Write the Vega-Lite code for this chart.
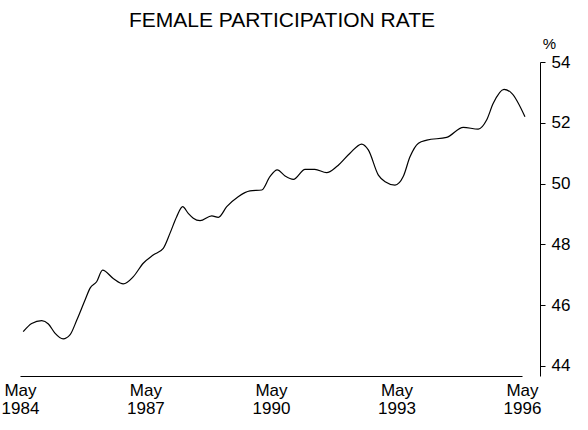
{
  "$schema": "https://vega.github.io/schema/vega-lite/v6.json",
  "width": 502,
  "height": 314,
  "autosize": {"type": "none"},
  "padding": {"left": 20, "top": 62, "right": 66, "bottom": 54},
  "background": "white",
  "config": {
    "font": "Liberation Sans",
    "view": {"stroke": null}
  },
  "title": {
    "text": "FEMALE PARTICIPATION RATE",
    "frame": "group",
    "anchor": "middle",
    "fontSize": 21,
    "fontWeight": "normal",
    "color": "black",
    "dx": 11,
    "offset": 5
  },
  "data": {
    "values": [
      {"date": "1984-05-29", "rate": 45.13},
      {"date": "1984-08-11", "rate": 45.40},
      {"date": "1984-11-07", "rate": 45.49},
      {"date": "1985-01-04", "rate": 45.38},
      {"date": "1985-03-02", "rate": 45.08},
      {"date": "1985-05-13", "rate": 44.89},
      {"date": "1985-07-11", "rate": 45.02},
      {"date": "1985-09-09", "rate": 45.51},
      {"date": "1985-11-20", "rate": 46.17},
      {"date": "1986-01-03", "rate": 46.56},
      {"date": "1986-03-01", "rate": 46.77},
      {"date": "1986-04-22", "rate": 47.15},
      {"date": "1986-07-24", "rate": 46.88},
      {"date": "1986-10-20", "rate": 46.70},
      {"date": "1987-01-16", "rate": 46.94},
      {"date": "1987-04-12", "rate": 47.38},
      {"date": "1987-07-08", "rate": 47.65},
      {"date": "1987-10-04", "rate": 47.87},
      {"date": "1987-12-02", "rate": 48.37},
      {"date": "1988-01-29", "rate": 48.91},
      {"date": "1988-03-21", "rate": 49.24},
      {"date": "1988-05-09", "rate": 49.02},
      {"date": "1988-06-22", "rate": 48.86},
      {"date": "1988-08-20", "rate": 48.78},
      {"date": "1988-11-30", "rate": 48.94},
      {"date": "1989-01-27", "rate": 48.89},
      {"date": "1989-04-10", "rate": 49.24},
      {"date": "1989-07-19", "rate": 49.57},
      {"date": "1989-10-30", "rate": 49.76},
      {"date": "1990-02-10", "rate": 49.79},
      {"date": "1990-04-22", "rate": 50.23},
      {"date": "1990-06-25", "rate": 50.45},
      {"date": "1990-09-01", "rate": 50.25},
      {"date": "1990-11-13", "rate": 50.14},
      {"date": "1991-02-23", "rate": 50.47},
      {"date": "1991-05-19", "rate": 50.47},
      {"date": "1991-08-30", "rate": 50.36},
      {"date": "1991-11-26", "rate": 50.56},
      {"date": "1992-03-21", "rate": 51.00},
      {"date": "1992-07-01", "rate": 51.30},
      {"date": "1992-08-28", "rate": 51.11},
      {"date": "1992-11-24", "rate": 50.28},
      {"date": "1993-01-22", "rate": 50.06},
      {"date": "1993-04-18", "rate": 49.95},
      {"date": "1993-06-29", "rate": 50.23},
      {"date": "1993-08-27", "rate": 50.88},
      {"date": "1993-11-09", "rate": 51.33},
      {"date": "1994-01-21", "rate": 51.43},
      {"date": "1994-07-13", "rate": 51.52},
      {"date": "1994-12-06", "rate": 51.85},
      {"date": "1995-04-15", "rate": 51.79},
      {"date": "1995-06-27", "rate": 52.09},
      {"date": "1995-08-24", "rate": 52.64},
      {"date": "1995-11-26", "rate": 53.10},
      {"date": "1996-02-02", "rate": 52.97},
      {"date": "1996-05-27", "rate": 52.20}
    ]
  },
  "mark": {"type": "line", "color": "black", "strokeWidth": 1.2, "interpolate": "monotone"},
  "encoding": {
    "x": {
      "field": "date",
      "type": "temporal",
      "scale": {"domain": [{"year": 1984, "month": "may", "date": 1}, {"year": 1996, "month": "may", "date": 1}]},
      "axis": {
        "title": null,
        "grid": false,
        "ticks": false,
        "domainColor": "black",
        "domainWidth": 1.2,
        "values": [
          {"year": 1984, "month": "may", "date": 1},
          {"year": 1987, "month": "may", "date": 1},
          {"year": 1990, "month": "may", "date": 1},
          {"year": 1993, "month": "may", "date": 1},
          {"year": 1996, "month": "may", "date": 1}
        ],
        "labelExpr": "['May', timeFormat(datum.value, '%Y')]",
        "labelFontSize": 17,
        "labelLineHeight": 18,
        "labelColor": "black",
        "labelPadding": 6,
        "labelOverlap": false,
        "labelFlush": false
      }
    },
    "y": {
      "field": "rate",
      "type": "quantitative",
      "scale": {"domain": [43.67, 54], "nice": false, "zero": false},
      "axis": {
        "orient": "right",
        "offset": 18,
        "grid": false,
        "values": [44, 46, 48, 50, 52, 54],
        "tickSize": 5,
        "tickColor": "black",
        "domainColor": "black",
        "labelFontSize": 17,
        "labelColor": "black",
        "labelPadding": 6,
        "title": "%",
        "titleAngle": 0,
        "titleFontSize": 15,
        "titleFontWeight": "normal",
        "titleColor": "black",
        "titleX": 9,
        "titleY": -14,
        "titleAlign": "center",
        "titleBaseline": "alphabetic"
      }
    }
  }
}
